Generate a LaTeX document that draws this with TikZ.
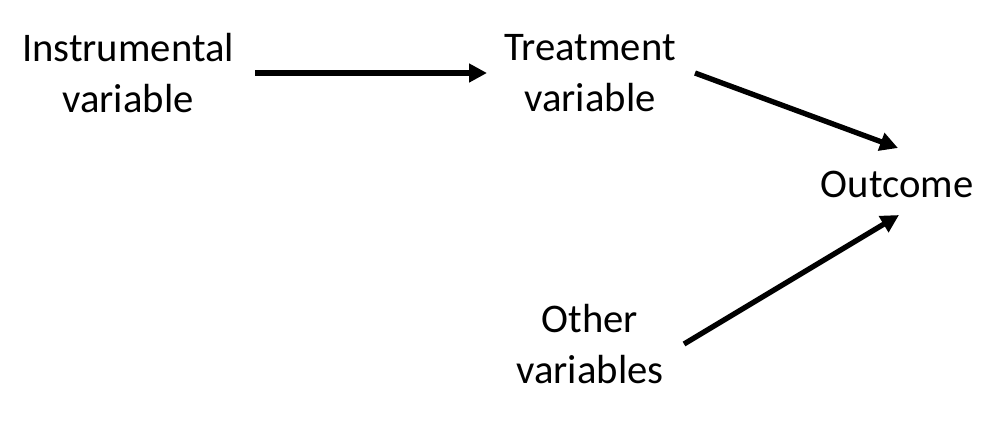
\documentclass[tikz,border=0pt]{standalone}
\usepackage{fontspec}
\setmainfont{Carlito}
\usetikzlibrary{arrows.meta}
\begin{document}
\begin{tikzpicture}[x=0.75pt,y=-0.75pt,
  lbl/.style={align=center,inner sep=0pt,font=\fontsize{30.5}{38}\selectfont},
  arr/.style={line width=4pt,-{Triangle[length=13.5pt,width=13.5pt]}}]
\useasboundingbox (0,0) rectangle (988,426);
\node[lbl] (iv) at (128,73) {Instrumental\\variable};
\node[lbl] (tv) at (590,73) {Treatment\\variable};
\node[lbl] (oc) at (897,184) {Outcome};
\node[lbl] (ov) at (590,344) {Other\\variables};
\coordinate (ivout) at (255,73);
\coordinate (tvin) at (487,73);
\coordinate (tvout) at (695,73);
\coordinate (ocin1) at (898,148);
\coordinate (ovout) at (684,344);
\coordinate (ocin2) at (899,215);
\draw[arr] (ivout) -- (tvin);
\draw[arr] (tvout) -- (ocin1);
\draw[arr] (ovout) -- (ocin2);
\end{tikzpicture}
\end{document}
